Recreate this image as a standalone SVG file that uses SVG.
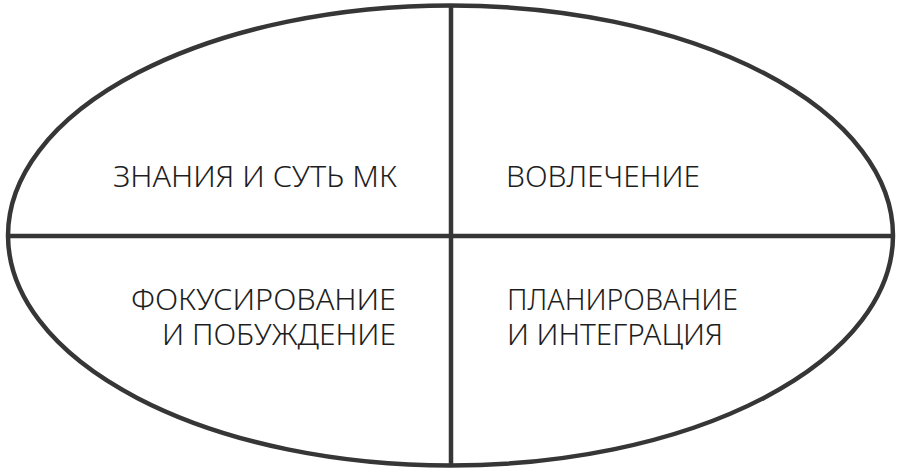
<svg xmlns="http://www.w3.org/2000/svg" width="900" height="474" viewBox="0 0 900 474">
<style>
.ln{fill:none;stroke:#363636;stroke-width:4.5}
.t{font-family:"Noto Sans","DejaVu Sans",sans-serif;font-size:30px;fill:#1e1e1e;font-weight:300}
</style>
<rect width="900" height="474" fill="#ffffff"/>
<g id="ellipse"><ellipse class="ln" cx="450.5" cy="235.5" rx="442.5" ry="230"/></g>
<g id="connectors">
<line class="ln" x1="8" y1="236" x2="893" y2="236"/>
<line class="ln" x1="451" y1="5" x2="451" y2="466"/>
</g>
<g id="q1"><text class="t" x="113" y="187" textLength="284" lengthAdjust="spacingAndGlyphs">ЗНАНИЯ И СУТЬ МК</text></g>
<g id="q2"><text class="t" x="506" y="187" textLength="194" lengthAdjust="spacingAndGlyphs">ВОВЛЕЧЕНИЕ</text></g>
<g id="q3">
<text class="t" x="131" y="310" textLength="265" lengthAdjust="spacingAndGlyphs">ФОКУСИРОВАНИЕ</text>
<text class="t" x="162" y="345" textLength="234" lengthAdjust="spacingAndGlyphs">И ПОБУЖДЕНИЕ</text>
</g>
<g id="q4">
<text class="t" x="507" y="310" textLength="231" lengthAdjust="spacingAndGlyphs">ПЛАНИРОВАНИЕ</text>
<text class="t" x="507" y="345" textLength="216" lengthAdjust="spacingAndGlyphs">И ИНТЕГРАЦИЯ</text>
</g>
</svg>
